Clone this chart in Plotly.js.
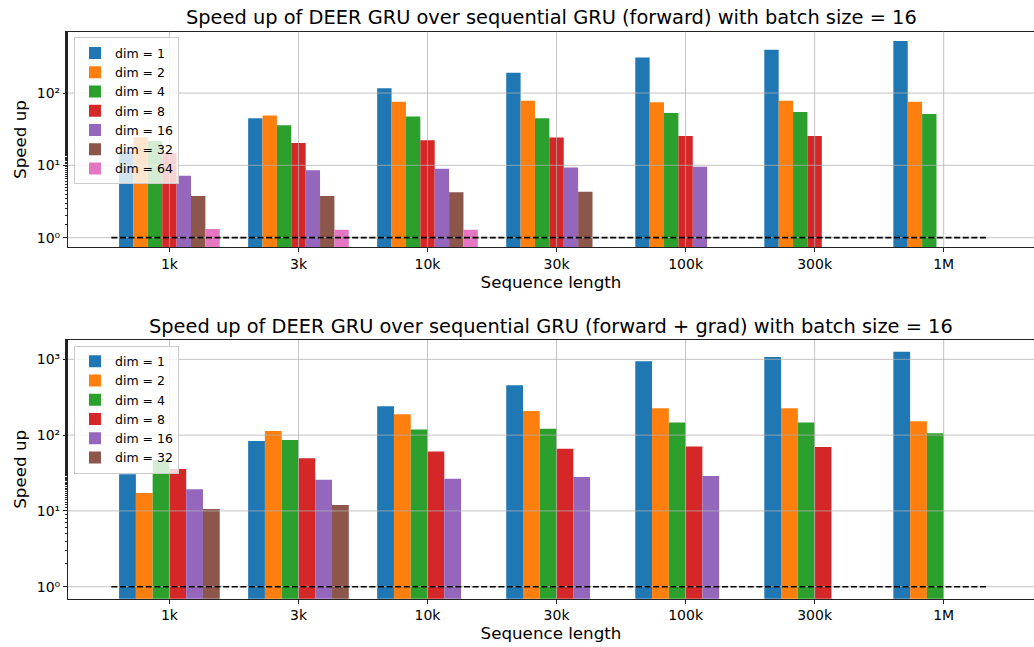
<!DOCTYPE html>
<html>
<head>
<meta charset="utf-8">
<script src="https://cdn.plot.ly/plotly-3.0.1.min.js"></script>
<style>html,body{margin:0;padding:0;background:#fff;}#chart{width:1034px;height:647px;}</style>
</head>
<body>
<div id="chart"></div>
<script>
// ---- data ----
const seqLabels = ["1k", "3k", "10k", "30k", "100k", "300k", "1M"];
const dimsTop = [1, 2, 4, 8, 16, 32, 64];
const dimsBottom = [1, 2, 4, 8, 16, 32];

// forward speed-up (null = not run)
const fwdDim1  = [15.5, 44.8, 116, 190, 309, 398, 526];
const fwdDim2  = [24.5, 48.7, 76, 78.5, 74.6, 78.5, 76];
const fwdDim4  = [21.7, 35.9, 47.2, 44.8, 53, 54.8, 51.4];
const fwdDim8  = [14.8, 20.4, 22.3, 24.2, 25.5, 25.5, null];
const fwdDim16 = [7.2, 8.55, 9.0, 9.3, 9.6, null, null];
const fwdDim32 = [3.77, 3.77, 4.25, 4.33, null, null, null];
const fwdDim64 = [1.32, 1.29, 1.29, null, null, null, null];

// forward + grad speed-up
const gradDim1  = [30.4, 83.6, 240, 454, 941, 1072, 1259];
const gradDim2  = [17.2, 113, 188, 208, 226, 226, 152];
const gradDim4  = [47, 86, 119, 121, 147, 147, 106];
const gradDim8  = [35.7, 49.4, 61, 66, 71, 69.7, null];
const gradDim16 = [19.3, 25.8, 26.6, 28, 28.9, null, null];
const gradDim32 = [10.6, 12.0, null, null, null, null, null];

// reference line (speed-up = 1)
const refLineX = [-0.45, 6.33];
const refLineY = [1, 1];
const yTickVals = [1, 10, 100, 1000];
const yTickText = ["10\u2070", "10\u00b9", "10\u00b2", "10\u00b3"];

const colors = ["#1f77b4", "#ff7f0e", "#2ca02c", "#d62728", "#9467bd", "#8c564b", "#e377c2"];
const fwdSeries = [fwdDim1, fwdDim2, fwdDim4, fwdDim8, fwdDim16, fwdDim32, fwdDim64];
const gradSeries = [gradDim1, gradDim2, gradDim4, gradDim8, gradDim16, gradDim32];
const xIdx = seqLabels.map((_, i) => i);

const traces = [];
fwdSeries.forEach((vals, k) => {
  traces.push({
    type: "bar", x: xIdx, y: vals, name: "dim = " + dimsTop[k],
    marker: {color: colors[k], line: {width: 0}},
    xaxis: "x", yaxis: "y", legend: "legend", offsetgroup: "t" + k, hoverinfo: "skip"
  });
});
gradSeries.forEach((vals, k) => {
  traces.push({
    type: "bar", x: xIdx, y: vals, name: "dim = " + dimsBottom[k],
    marker: {color: colors[k], line: {width: 0}},
    xaxis: "x2", yaxis: "y2", legend: "legend2", offsetgroup: "b" + k, hoverinfo: "skip"
  });
});

const font = "DejaVu Sans, sans-serif";
const xRange = [-0.786, 6.70];
function xAxis(anchor) {
  return {
    anchor: anchor, domain: [0, 1], range: xRange, tickmode: "array", tickvals: xIdx, ticktext: seqLabels,
    showgrid: false, zeroline: false, showline: true, mirror: true, linecolor: "#222", linewidth: 1,
    ticks: "outside", ticklen: 4, tickcolor: "#222", tickfont: {family: font, size: 14, color: "#000"},
    title: {text: "Sequence length", font: {family: font, size: 16.7, color: "#000"}, standoff: 1}
  };
}
function yAxis(anchor, dom, rng, nTicks) {
  return {
    anchor: anchor, domain: dom, type: "log", range: rng, tickmode: "array",
    tickvals: yTickVals.slice(0, nTicks), ticktext: yTickText.slice(0, nTicks),
    showgrid: false, zeroline: false, showline: true, mirror: true, linecolor: "#222", linewidth: 1,
    ticks: "outside", ticklen: 4, tickcolor: "#222", tickfont: {family: font, size: 14, color: "#000"},
    minor: {ticks: "outside", ticklen: 2, tickcolor: "#222", showgrid: false},
    title: {text: "Speed up", font: {family: font, size: 16.7, color: "#000"}, standoff: 5}
  };
}

const gridColor = "rgba(176,176,176,0.75)";
const shapes = [];
[["x", "y", 3], ["x2", "y2", 4]].forEach(([xa, ya, n]) => {
  xIdx.forEach(v => shapes.push({type: "line", layer: "above", xref: xa, yref: ya + " domain", x0: v, x1: v, y0: 0, y1: 1, line: {color: gridColor, width: 1}}));
  yTickVals.slice(0, n).forEach(v => shapes.push({type: "line", layer: "above", xref: xa + " domain", yref: ya, x0: 0, x1: 1, y0: v, y1: v, line: {color: gridColor, width: 1}}));
});
// dashed reference line, drawn on top of the grid
[["x", "y"], ["x2", "y2"]].forEach(([xa, ya]) => {
  shapes.push({type: "line", layer: "above", xref: xa, yref: ya, x0: refLineX[0], x1: refLineX[1], y0: refLineY[0], y1: refLineY[1],
    line: {color: "black", width: 1.6, dash: "6px,2.6px"}});
});

const legendStyle = {
  bgcolor: "rgba(255,255,255,0.8)", bordercolor: "#cccccc", borderwidth: 1,
  font: {family: font, size: 12.5, color: "#000"}, xanchor: "left", yanchor: "top",
  tracegroupgap: 0, itemwidth: 30
};

const layout = {
  width: 1034, height: 647, paper_bgcolor: "white", plot_bgcolor: "white",
  margin: {l: 68, r: 0, t: 0, b: 0},
  barmode: "group", bargap: 0.22, bargroupgap: 0,
  showlegend: true,
  xaxis: xAxis("y"),
  yaxis: yAxis("x", [0.6178, 0.9510], [-0.133, 2.848], 3),
  xaxis2: xAxis("y2"),
  yaxis2: yAxis("x2", [0.0747, 0.4745], [-0.158, 3.255], 4),
  legend: Object.assign({x: 0.0062, y: 0.9423}, legendStyle),
  legend2: Object.assign({x: 0.0062, y: 0.4657}, legendStyle),
  shapes: shapes,
  annotations: [
    {text: "Speed up of DEER GRU over sequential GRU (forward) with batch size = 16", xref: "paper", yref: "paper",
     x: 0.5, y: 1 - 17 / 647, xanchor: "center", yanchor: "middle", showarrow: false, font: {family: font, size: 19.4, color: "#000"}},
    {text: "Speed up of DEER GRU over sequential GRU (forward + grad) with batch size = 16", xref: "paper", yref: "paper",
     x: 0.5, y: 1 - 326 / 647, xanchor: "center", yanchor: "middle", showarrow: false, font: {family: font, size: 19.4, color: "#000"}}
  ]
};

Plotly.newPlot("chart", traces, layout, {staticPlot: true, displayModeBar: false});
</script>
</body>
</html>
